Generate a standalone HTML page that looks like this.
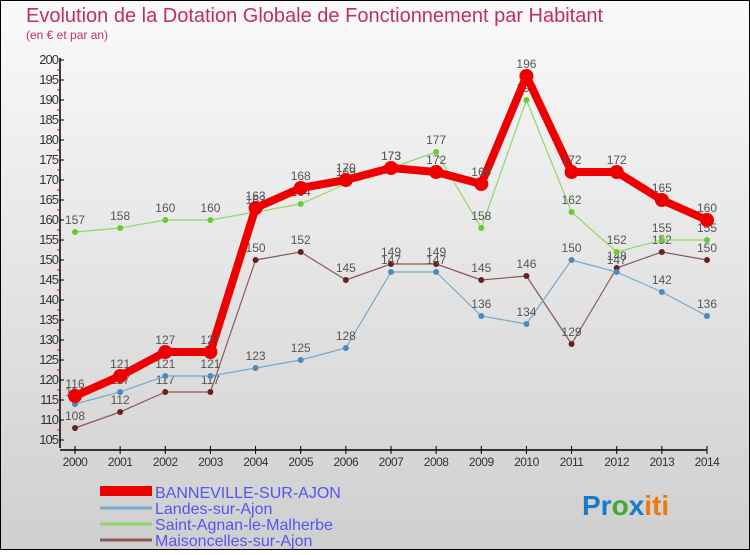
<!DOCTYPE html>
<html><head><meta charset="utf-8"><style>
html,body{margin:0;padding:0}
body{width:750px;height:550px;overflow:hidden;font-family:"Liberation Sans","DejaVu Sans",sans-serif}
</style></head><body>
<svg id="c" width="750" height="550" xmlns="http://www.w3.org/2000/svg">
<defs><linearGradient id="bg" x1="0" y1="0" x2="0" y2="1"><stop offset="0" stop-color="#fafafa"/><stop offset="1" stop-color="#cfcfcf"/></linearGradient></defs>
<rect x="0.5" y="0.5" width="749" height="549" fill="url(#bg)" stroke="#000"/>
<text x="26" y="22" font-size="20" fill="#c0305a">Evolution de la Dotation Globale de Fonctionnement par Habitant</text>
<text x="26" y="39" font-size="12" fill="#c0305a">(en € et par an)</text>
<g id="axes"></g><g id="series"></g>
<g>
<rect x="100" y="486" width="52" height="10" fill="#e00"/>
<text x="155" y="498" font-size="16" fill="#5555ee">BANNEVILLE-SUR-AJON</text>
<line x1="100" y1="508" x2="152" y2="508" stroke="#78aacc" stroke-width="3"/>
<text x="155" y="514" font-size="16" fill="#5555ee">Landes-sur-Ajon</text>
<line x1="100" y1="524" x2="152" y2="524" stroke="#90d868" stroke-width="3"/>
<text x="155" y="530" font-size="16" fill="#5555ee">Saint-Agnan-le-Malherbe</text>
<line x1="100" y1="540" x2="152" y2="540" stroke="#8a5858" stroke-width="3"/>
<text x="155" y="546" font-size="16" fill="#5555ee">Maisoncelles-sur-Ajon</text>
</g>
<text x="582" y="515" font-size="28" font-weight="bold"><tspan fill="#1a7ac8">Pr</tspan><tspan fill="#44aa33">o</tspan><tspan fill="#1a7ac8">x</tspan><tspan fill="#ee7711">iti</tspan></text>
</svg>
<script>
const years=[2000,2001,2002,2003,2004,2005,2006,2007,2008,2009,2010,2011,2012,2013,2014];
const banneville=[116,121,127,127,163,168,170,173,172,169,196,172,172,165,160];
const landes=[114,117,121,121,123,125,128,147,147,136,134,150,147,142,136];
const saintAgnan=[157,158,160,160,162,164,169,173,177,158,190,162,152,155,155];
const maisoncelles=[108,112,117,117,150,152,145,149,149,145,146,129,148,152,150];
const yTicks=[105,110,115,120,125,130,135,140,145,150,155,160,165,170,175,180,185,190,195,200];
const NS="http://www.w3.org/2000/svg";
const X=i=>75+i*(707-75)/14;
const Y=v=>60+(200-v)*4;
function mk(t,a,p){const e=document.createElementNS(NS,t);for(const k in a)e.setAttribute(k,a[k]);p.appendChild(e);return e;}
const ax=document.getElementById('axes');
let yl=mk('line',{x1:60,y1:58,x2:60,y2:448,stroke:'#000','stroke-width':1.5},ax);


let xl=mk('line',{x1:60,y1:450,x2:707,y2:450,stroke:'#000','stroke-width':1.5},ax);


yTicks.forEach(v=>{
 mk('line',{x1:60,y1:Y(v),x2:64,y2:Y(v),stroke:'#000'},ax);
 if(v<200)mk('line',{x1:57,y1:Y(v+2.5),x2:60,y2:Y(v+2.5),stroke:'#e00'},ax);
 const t=mk('text',{x:58,y:Y(v)+4,'font-size':13,fill:'#333','text-anchor':'end','letter-spacing':'-1'},ax);
 t.textContent=v;
 
 
});
years.forEach((yr,i)=>{
 mk('line',{x1:X(i),y1:446,x2:X(i),y2:454,stroke:'#000'},ax);
 const t=mk('text',{x:X(i),y:466,'font-size':12,fill:'#333','text-anchor':'middle','letter-spacing':'-0.5'},ax);
 t.textContent=yr;
 
 
});
const sg=document.getElementById('series');
const defs=[[maisoncelles,'#6a2020','#8a5858',1.2,3,'maisoncelles'],[saintAgnan,'#66cc33','#90d868',1.2,3,'saint-agnan'],[landes,'#4a8ac0','#78aacc',1.2,3,'landes'],[banneville,'#e00','#e00',8,7,'banneville']];
defs.forEach(([d,dot,col,w,r,nm])=>{
 const p=mk('polyline',{points:d.map((v,i)=>X(i)+','+Y(v)).join(' '),fill:'none',stroke:col,'stroke-width':w,'stroke-linejoin':'round'},sg);
 
 
 d.forEach((v,i)=>{
  const c=mk('circle',{cx:X(i),cy:Y(v),r:r,fill:dot},sg);
  
  
  const t=mk('text',{x:X(i),y:Y(v)-8,'font-size':12,fill:'#555','text-anchor':'middle'},sg);
  t.textContent=v;
  
  
 });
});
</script>
</body></html>
